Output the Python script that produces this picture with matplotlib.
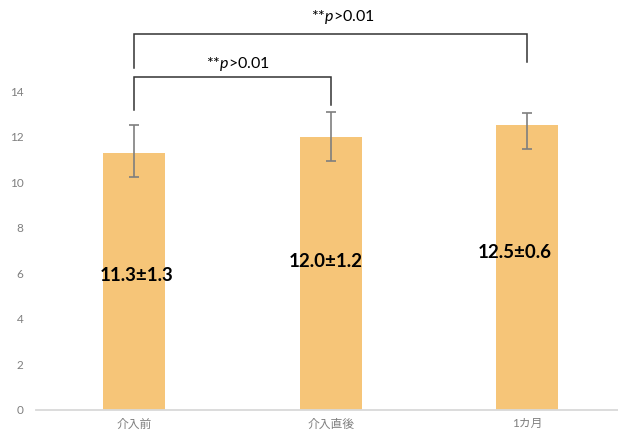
import matplotlib
matplotlib.use('Agg')
import matplotlib.pyplot as plt

plt.rcParams['font.family'] = ['Lato', 'Noto Sans CJK JP', 'DejaVu Sans']
plt.rcParams['mathtext.fontset'] = 'custom'
plt.rcParams['mathtext.it'] = 'Lato:italic'
plt.rcParams['mathtext.rm'] = 'Lato'

# データ
categories = ['介入前', '介入直後', '1カ月']
means = [11.3, 12.0, 12.5]
err_low = [1.05, 1.05, 1.05]
err_high = [1.2, 1.1, 0.55]
labels = ['11.3±1.3', '12.0±1.2', '12.5±0.6']
label_y = [5.9, 6.5, 6.9]
label_dx = [0.01, -0.025, -0.066]
yticks = [0, 2, 4, 6, 8, 10, 12, 14]

# 有意差の括弧 (左, 右, 上端, 左脚下端, 右脚下端)
brackets = [
    (0, 1, 14.6, 13.17, 13.39),
    (0, 2, 16.5, 15.0, 15.26),
]
sig_text = '**$p$>0.01'

fig = plt.figure(figsize=(6.18, 4.33), dpi=100)
ax = fig.add_axes([36 / 618, 23 / 433, 589.5 / 618, 410 / 433])

x = range(len(categories))
ax.bar(x, means, width=0.315, color='#F6C578', zorder=2)
ax.errorbar(x, means, yerr=[err_low, err_high], fmt='none',
            ecolor='#7F7F7F', elinewidth=1.2, capsize=3.5, capthick=1.2, zorder=3)

for i, t in enumerate(labels):
    ax.text(i + label_dx[i], label_y[i], t, ha='center', va='center',
            fontsize=13.5, fontweight='bold', color='black', zorder=4)

for l, r, top, lb, rb in brackets:
    ax.plot([l, l, r, r], [lb, top, top, rb], color='#333333', lw=1.1,
            solid_joinstyle='miter', zorder=3)

ax.text(0.525, 15.2, sig_text, ha='center', va='center', fontsize=11.5, color='black')
ax.text(1.06, 17.25, sig_text, ha='center', va='center', fontsize=11.5, color='black')

ax.set_xlim(-0.5, 2.5)
ax.set_ylim(0, 18)
ax.set_yticks(yticks)
ax.set_xticks(list(x))
ax.set_xticklabels(categories)
ax.tick_params(axis='both', length=0, labelsize=8.5, labelcolor='#7F7F7F')
ax.tick_params(axis='y', pad=9)
ax.tick_params(axis='x', pad=6)

for s in ['top', 'right', 'left']:
    ax.spines[s].set_visible(False)
ax.spines['bottom'].set_color('#D9D9D9')
ax.spines['bottom'].set_linewidth(1.3)

fig.savefig('out.png', dpi=100)
